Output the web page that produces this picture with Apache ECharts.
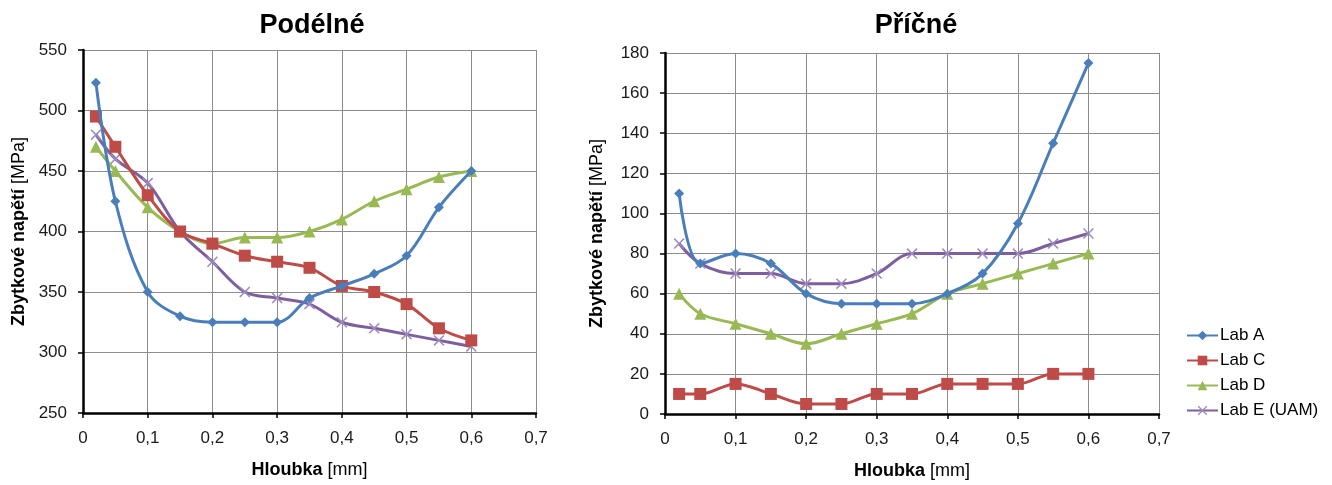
<!DOCTYPE html>
<html><head><meta charset="utf-8">
<script src="https://cdn.jsdelivr.net/npm/echarts@6/dist/echarts.min.js"></script>
<style>html,body{margin:0;padding:0;background:#fff}#c{width:1332px;height:485px}</style>
</head><body><div id="c"></div>
<script>
const depths = [0.02, 0.05, 0.1, 0.15, 0.2, 0.25, 0.3, 0.35, 0.4, 0.45, 0.5, 0.55, 0.6];
const seriesNames = ['Lab A', 'Lab C', 'Lab D', 'Lab E (UAM)'];
// Podélné (longitudinal)
const longLabA = [523, 425, 350, 330, 325, 325, 325, 345, 355, 365, 380, 420, 450];
const longLabC = [495, 470, 430, 400, 390, 380, 375, 370, 355, 350, 340, 320, 310];
const longLabD = [470, 450, 420, 400, 390, 395, 395, 400, 410, 425, 435, 445, 450];
const longLabE = [480, 460, 440, 400, 375, 350, 345, 340, 325, 320, 315, 310, 305];
// Příčné (transverse)
const transLabA = [110, 75, 80, 75, 60, 55, 55, 55, 60, 70, 95, 135, 175];
const transLabC = [10, 10, 15, 10, 5, 5, 10, 10, 15, 15, 15, 20, 20];
const transLabD = [60, 50, 45, 40, 35, 40, 45, 50, 60, 65, 70, 75, 80];
const transLabE = [85, 75, 70, 70, 65, 65, 70, 80, 80, 80, 80, 85, 90];

const colors = ['#4A7EBB', '#BE4B48', '#98B954', '#7D5FA0'];
const crossPath = 'path://M0,1 L1,0 L5,4 L9,0 L10,1 L6,5 L10,9 L9,10 L5,6 L1,10 L0,9 L4,5 Z';
const symbols = ['diamond', 'rect', 'triangle', crossPath];
const symSizes = [10, 12, 12, 11];
const symColors = ['#4A7EBB', '#BE4B48', '#98B954', '#9E8CBF'];
const FONT = 'Liberation Sans, Arial, sans-serif';

function pairs(vals){ return depths.map((d,i)=>[d, vals[i]]); }
function mkSeries(idx, vals, gi){
  return {
    name: seriesNames[idx], type: 'line', xAxisIndex: gi, yAxisIndex: gi,
    data: pairs(vals), smooth: 0.35,
    symbol: symbols[idx], symbolSize: symSizes[idx], showSymbol: true,
    lineStyle: {color: colors[idx], width: 3},
    itemStyle: {color: symColors[idx], borderWidth: 0},
    z: 10 - idx, animation: false
  };
}
const nameStyle = {fontFamily: FONT, fontSize: 18, color: '#000',
  rich: {b: {fontWeight: 'bold', fontSize: 18, fontFamily: FONT, color: '#000'},
         n: {fontSize: 18, fontFamily: FONT, color: '#000'}}};
function xAxis(gi){
  return {
    type: 'value', gridIndex: gi, min: 0, max: 0.7, interval: 0.1,
    axisLine: {show: true, onZero: false, lineStyle: {color: '#000', width: 2.5}},
    axisTick: {show: true, inside: false, length: 5, lineStyle: {color: '#000', width: 1.5}},
    axisLabel: {fontFamily: FONT, fontSize: 17, color: '#1a1a1a', margin: 17,
      formatter: v => String(Math.round(v*10)/10).replace('.', ',')},
    splitLine: {show: true, lineStyle: {color: '#8c8c8c', width: 1}},
    name: '{b|Hloubka} {n|[mm]}', nameLocation: 'middle', nameGap: 48,
    nameTextStyle: nameStyle
  };
}
function yAxis(gi, min, max, interval, gap){
  return {
    type: 'value', gridIndex: gi, min: min, max: max, interval: interval,
    axisLine: {show: true, onZero: false, lineStyle: {color: '#000', width: 2.5}},
    axisTick: {show: true, inside: false, length: 5, lineStyle: {color: '#000', width: 1.5}},
    axisLabel: {fontFamily: FONT, fontSize: 17, color: '#1a1a1a', margin: 16},
    splitLine: {show: true, lineStyle: {color: '#8c8c8c', width: 1}},
    name: '{b|Zbytkové napětí} {n|[MPa]}', nameLocation: 'middle', nameGap: gap, nameRotate: 90,
    nameTextStyle: nameStyle
  };
}

const chart = echarts.init(document.getElementById('c'), null, {renderer: 'canvas'});
chart.setOption({
  backgroundColor: '#fff',
  animation: false,
  title: [
    {text: 'Podélné', left: 307, top: 7, textAlign: 'center',
      textStyle: {fontFamily: FONT, fontSize: 27, fontWeight: 'bold', color: '#000'}},
    {text: 'Příčné', left: 911, top: 7, textAlign: 'center',
      textStyle: {fontFamily: FONT, fontSize: 27, fontWeight: 'bold', color: '#000'}}
  ],
  legend: {
    data: seriesNames, orient: 'vertical', left: 1186, top: 327,
    itemWidth: 31, itemHeight: 12, itemGap: 8, padding: 0,
    textStyle: {fontFamily: FONT, fontSize: 17, color: '#000', padding: [0,0,0,-3]}
  },
  grid: [
    {left: 83, top: 50, width: 453, height: 363, containLabel: false},
    {left: 665, top: 53, width: 494, height: 366, containLabel: false}
  ],
  xAxis: [xAxis(0), xAxis(1)],
  yAxis: [yAxis(0, 250, 550, 50, 55), yAxis(1, 0, 180, 20, 59)],
  series: [
    mkSeries(0, longLabA, 0), mkSeries(1, longLabC, 0), mkSeries(2, longLabD, 0), mkSeries(3, longLabE, 0),
    mkSeries(0, transLabA, 1), mkSeries(1, transLabC, 1), mkSeries(2, transLabD, 1), mkSeries(3, transLabE, 1)
  ]
});
</script>
</body></html>
